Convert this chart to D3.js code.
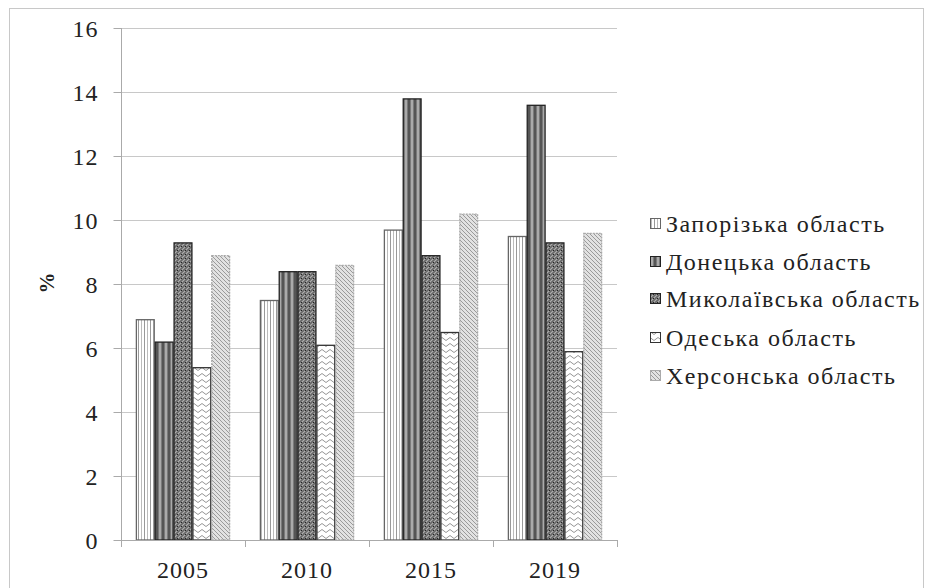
<!DOCTYPE html>
<html><head><meta charset="utf-8">
<script src="https://cdn.jsdelivr.net/npm/d3@7"></script>
<style>body{margin:0;background:#fff}svg{display:block}</style>
</head><body>
<svg id="c" width="932" height="588" font-family="Liberation Serif"></svg>
<script>
const years = ["2005","2010","2015","2019"];
const regions = ["Запорізька область","Донецька область","Миколаївська область","Одеська область","Херсонська область"];
const zaporizka = [6.9, 7.5, 9.7, 9.5];
const donetska = [6.2, 8.4, 13.8, 13.6];
const mykolaivska = [9.3, 8.4, 8.9, 9.3];
const odeska = [5.4, 6.1, 6.5, 5.9];
const khersonska = [8.9, 8.6, 10.2, 9.6];
const yTicks = [0,2,4,6,8,10,12,14,16];
const seriesVals = [zaporizka, donetska, mykolaivska, odeska, khersonska];
const FONT = '"Liberation Serif"';

const svg = d3.select("#c");
const defs = svg.append("defs");
function pat(id,w,h){return defs.append("pattern").attr("id",id).attr("patternUnits","userSpaceOnUse").attr("width",w).attr("height",h);}
let p = pat("pZ",6,6);
p.append("rect").attr("width",6).attr("height",6).attr("fill","#fff");
p.append("rect").attr("x",0).attr("width",1).attr("height",6).attr("fill","#999");
p.append("rect").attr("x",3).attr("width",1).attr("height",6).attr("fill","#bbb");
p = pat("pD",6,6);
p.append("rect").attr("width",6).attr("height",6).attr("fill","#7a7a7a");
p.append("rect").attr("x",0).attr("width",2).attr("height",6).attr("fill","#555");
p.append("rect").attr("x",3).attr("width",2).attr("height",6).attr("fill","#aaa");
p = pat("pM",4,4);
p.append("rect").attr("width",4).attr("height",4).attr("fill","#666");
p.append("path").attr("d","M-1,1 L1,-1 M0,4 L4,0 M3,5 L5,3").attr("stroke","#b0b0b0").attr("stroke-width",1.2);
p.append("rect").attr("x",1).attr("y",2).attr("width",1).attr("height",1).attr("fill","#222");
p = pat("pO",8,6);
p.append("rect").attr("width",8).attr("height",6).attr("fill","#fff");
p.append("path").attr("d","M0,3 Q2,0 4,3 T8,3").attr("fill","none").attr("stroke","#888").attr("stroke-width",0.9);
p = pat("pK",4,4);
p.append("rect").attr("width",4).attr("height",4).attr("fill","#e2e2e2");
p.append("path").attr("d","M-1,-1 L5,5 M3,-1 L5,1 M-1,3 L1,5").attr("stroke","#9a9a9a").attr("stroke-width",1);
const fills = ["url(#pZ)","url(#pD)","url(#pM)","url(#pO)","url(#pK)"];
const strokes = ["#666","#222","#222","#333","#aaa"];

svg.append("rect").attr("x",9.5).attr("y",8.5).attr("width",914).attr("height",600).attr("fill","none").attr("stroke","#c8c8c8");

const x0 = d3.scaleBand().domain(years).range([121,617]).paddingInner(0.24).paddingOuter(0.12);
const x1 = d3.scaleBand().domain(regions).range([0,x0.bandwidth()]);
const y = d3.scaleLinear().domain([0,16]).range([540,28]);

svg.append("g").selectAll("line").data(yTicks.filter(d=>d>0)).join("line")
  .attr("x1",121).attr("x2",617).attr("y1",d=>y(d)+0.5).attr("y2",d=>y(d)+0.5)
  .attr("stroke","#c8c8c8").attr("stroke-width",1.2);

const ya = svg.append("g").attr("transform","translate(121.5,0)")
  .call(d3.axisLeft(y).tickValues(yTicks).tickSize(8).tickPadding(0).tickFormat(d3.format("d")));
ya.attr("font-family",null).attr("font-size",null);
ya.select(".domain").attr("stroke","#aaa").attr("d","M0,540.5V28");
ya.selectAll(".tick line").attr("stroke","#aaa");
ya.selectAll("text").attr("x",-23).attr("dy",null).attr("y",8)
  .style("font-family",FONT).style("font-size","24px").style("letter-spacing","1px").attr("fill","#222");

const g = svg.append("g");
years.forEach((yr,i)=>{
  regions.forEach((r,j)=>{
    const v = seriesVals[j][i];
    g.append("rect").attr("x",x0(yr)+x1(r)+0.5).attr("y",y(v)+0.5)
      .attr("width",x1.bandwidth()-1).attr("height",y(0)-y(v)-0.5)
      .attr("fill",fills[j]).attr("stroke",strokes[j]).attr("stroke-width",1.3)
      .attr("stroke-dasharray", j===4 ? "2,1" : null);
  });
});

const xa = svg.append("g").attr("transform","translate(0,540.5)")
  .call(d3.axisBottom(x0).tickSize(0).tickPadding(0));
xa.attr("font-family",null).attr("font-size",null);
xa.select(".domain").attr("stroke","#aaa").attr("d","M121,0H617");
xa.selectAll("text").attr("y",37).attr("dy",null)
  .style("font-family",FONT).style("font-size","24px").style("letter-spacing","1px").attr("fill","#222");
svg.append("g").selectAll("line").data([0,1,2,3,4]).join("line")
  .attr("x1",(d)=>121+d*124+0.5).attr("x2",(d)=>121+d*124+0.5).attr("y1",540).attr("y2",547)
  .attr("stroke","#aaa");

svg.append("text").attr("transform","translate(54,283) rotate(-90)").attr("text-anchor","middle")
  .style("font-family",FONT).style("font-weight","bold").style("font-size","21px").attr("fill","#222").text("%");

const lg = svg.append("g");
const ly = [232,270,307,346,384];
regions.forEach((r,j)=>{
  lg.append("rect").attr("x",650.5).attr("y",ly[j]-13.5).attr("width",10).attr("height",10)
    .attr("fill",fills[j]).attr("stroke",strokes[j]);
  lg.append("text").attr("x",666).attr("y",ly[j])
    .style("font-family",FONT).style("font-size","24px").style("letter-spacing","1.5px")
    .attr("fill","#222").text(r);
});
</script>
</body></html>
